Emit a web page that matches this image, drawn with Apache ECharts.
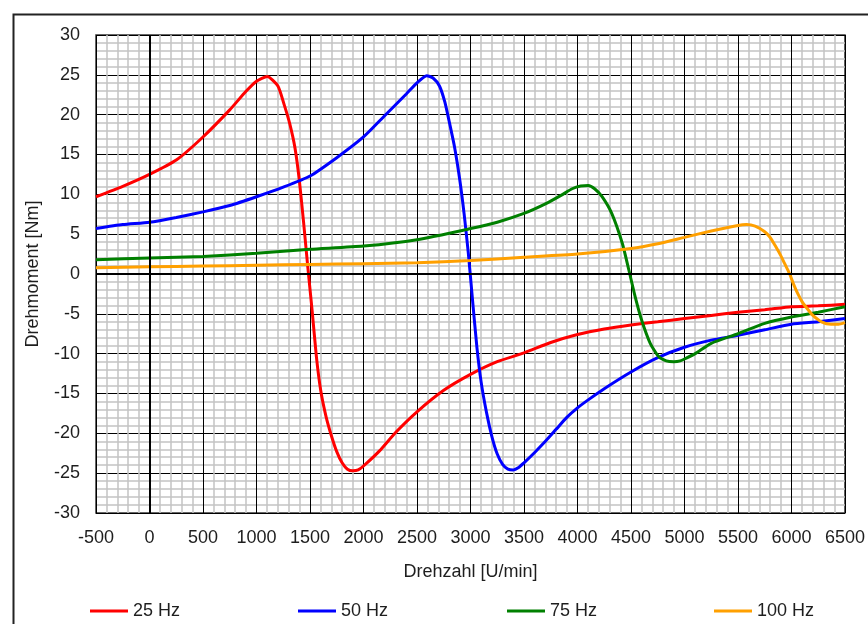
<!DOCTYPE html>
<html>
<head>
<meta charset="utf-8">
<script src="https://cdn.jsdelivr.net/npm/echarts@6/dist/echarts.min.js"></script>
<style>
  html, body { margin: 0; padding: 0; background: #fff; }
  #chart { width: 868px; height: 624px; }
</style>
</head>
<body>
<div id="chart"></div>
<script>
// Drehmoment-Drehzahl-Kennlinien bei verschiedenen Speisefrequenzen
const xTicks = { min: -500, max: 6500, step: 500 };
const yTicks = { min: -30, max: 30, step: 5 };

const rpm25 = [-500, -250, 0, 250, 500, 750, 900, 1000, 1100, 1200, 1260, 1310, 1360, 1400, 1440, 1480, 1520, 1560, 1600, 1650, 1700, 1750, 1800, 1850, 1900, 1950, 2000, 2150, 2300, 2500, 2750, 3000, 3250, 3500, 3750, 4000, 4250, 4500, 4750, 5000, 5250, 5500, 5750, 6000, 6250, 6500];
const torque25 = [9.7, 11.0, 12.5, 14.3, 17.2, 20.6, 22.9, 24.2, 24.8, 23.6, 21.2, 18.9, 15.8, 11.8, 6.5, 0.8, -4.6, -10.4, -14.6, -17.9, -20.3, -22.3, -23.7, -24.5, -24.7, -24.6, -24.1, -22.2, -19.9, -17.3, -14.6, -12.6, -11.0, -9.9, -8.6, -7.6, -6.9, -6.4, -6.0, -5.6, -5.2, -4.8, -4.5, -4.1, -4.0, -3.8];

const rpm50 = [-500, -250, 0, 250, 500, 750, 1000, 1250, 1500, 1750, 2000, 2200, 2400, 2500, 2590, 2650, 2710, 2760, 2800, 2850, 2900, 2940, 2980, 3020, 3060, 3100, 3150, 3200, 3250, 3300, 3350, 3400, 3450, 3500, 3600, 3700, 3800, 3900, 4000, 4100, 4250, 4500, 4750, 5000, 5250, 5500, 5750, 6000, 6250, 6500];
const torque50 = [5.7, 6.2, 6.5, 7.1, 7.8, 8.6, 9.7, 10.9, 12.3, 14.6, 17.2, 19.9, 22.6, 24.0, 24.9, 24.6, 23.6, 21.6, 19.2, 16.0, 11.8, 7.6, 2.6, -3.4, -9.2, -13.6, -17.4, -20.4, -22.6, -23.9, -24.5, -24.6, -24.3, -23.7, -22.4, -21.0, -19.5, -18.0, -16.8, -15.8, -14.4, -12.3, -10.5, -9.2, -8.3, -7.7, -7.0, -6.3, -6.0, -5.6];

const rpm75 = [-500, 0, 500, 1000, 1500, 2000, 2500, 3000, 3250, 3500, 3700, 3850, 3950, 4030, 4100, 4160, 4230, 4320, 4420, 4480, 4540, 4600, 4680, 4760, 4830, 4900, 4960, 5010, 5100, 5250, 5500, 5750, 6000, 6250, 6500];
const torque75 = [1.8, 2.0, 2.2, 2.6, 3.1, 3.5, 4.3, 5.7, 6.5, 7.6, 8.8, 9.9, 10.7, 11.05, 11.1, 10.7, 9.7, 7.6, 3.8, 0.5, -2.9, -5.8, -8.7, -10.4, -10.9, -11.0, -10.9, -10.6, -10.0, -8.7, -7.5, -6.2, -5.4, -4.8, -4.1];

const rpm100 = [-500, 0, 500, 1000, 1500, 2000, 2500, 3000, 3500, 4000, 4500, 4750, 5000, 5250, 5500, 5580, 5660, 5750, 5800, 5850, 5900, 5940, 5980, 6020, 6060, 6100, 6150, 6200, 6280, 6370, 6440, 6500];
const torque100 = [0.8, 0.9, 1.0, 1.1, 1.2, 1.3, 1.4, 1.7, 2.1, 2.5, 3.2, 3.8, 4.6, 5.4, 6.1, 6.2, 6.0, 5.3, 4.6, 3.5, 2.3, 1.2, 0.1, -1.3, -2.5, -3.5, -4.4, -5.2, -6.0, -6.3, -6.3, -6.1];

const seriesNames = ['25 Hz', '50 Hz', '75 Hz', '100 Hz'];
const seriesColors = ['#ff0000', '#0000ff', '#008000', '#ffa000'];
const seriesX = [rpm25, rpm50, rpm75, rpm100];
const seriesY = [torque25, torque50, torque75, torque100];
const legendLeft = [90, 298, 507, 714];

const FONT = "'Liberation Sans', Arial, sans-serif";
const TEXT = '#1e1e1e';

const pairs = (xs, ys) => xs.map((x, i) => [x, ys[i]]);
const plainNumber = (v) => String(v);

const curveSeries = seriesNames.map((name, i) => ({
  name: name,
  type: 'line',
  data: pairs(seriesX[i], seriesY[i]),
  showSymbol: false,
  smooth: 0.2,
  z: 3,
  lineStyle: { color: seriesColors[i], width: 3 },
  itemStyle: { color: seriesColors[i] }
}));

// Achsenkreuz durch den Nullpunkt
const zeroLines = {
  name: 'zero',
  type: 'line',
  data: [],
  z: 2,
  silent: true,
  markLine: {
    silent: true,
    symbol: ['none', 'none'],
    label: { show: false },
    lineStyle: { color: '#000', width: 2, type: 'solid' },
    data: [{ xAxis: 0 }, { yAxis: 0 }]
  }
};

const legends = seriesNames.map((name, i) => ({
  data: [name],
  left: legendLeft[i],
  top: 602,
  padding: 0,
  icon: 'rect',
  itemWidth: 38,
  itemHeight: 3,
  itemGap: 0,
  textStyle: { fontFamily: FONT, fontSize: 18, color: TEXT }
}));

const chart = echarts.init(document.getElementById('chart'), null, { renderer: 'canvas' });
chart.setOption({
  animation: false,
  backgroundColor: '#fff',
  textStyle: { fontFamily: FONT },
  graphic: [{
    type: 'rect',
    left: 11, top: 12,
    shape: { width: 900, height: 700 },
    style: { fill: 'none', stroke: '#222', lineWidth: 2 },
    z: 0
  }],
  grid: {
    left: 96, top: 35, width: 751, height: 478,
    show: true, borderColor: '#333', borderWidth: 1.5, backgroundColor: 'transparent'
  },
  legend: legends,
  xAxis: {
    type: 'value',
    min: xTicks.min, max: xTicks.max, interval: xTicks.step,
    name: 'Drehzahl [U/min]',
    nameLocation: 'middle',
    nameGap: 50,
    nameTextStyle: { fontFamily: FONT, fontSize: 18, color: TEXT },
    axisLine: { show: false },
    axisTick: { show: false },
    axisLabel: { fontFamily: FONT, fontSize: 18, color: TEXT, margin: 16, formatter: plainNumber },
    splitLine: { show: true, lineStyle: { color: '#000', width: 1 } },
    minorTick: { show: false, splitNumber: 5 },
    minorSplitLine: { show: true, lineStyle: { color: '#c4c4c4', width: 1.5 } }
  },
  yAxis: {
    type: 'value',
    min: yTicks.min, max: yTicks.max, interval: yTicks.step,
    name: 'Drehmoment [Nm]',
    nameLocation: 'middle',
    nameGap: 54,
    nameTextStyle: { fontFamily: FONT, fontSize: 18, color: TEXT },
    axisLine: { show: false },
    axisTick: { show: false },
    axisLabel: { fontFamily: FONT, fontSize: 18, color: TEXT, margin: 16, formatter: plainNumber },
    splitLine: { show: true, lineStyle: { color: '#000', width: 1 } },
    minorTick: { show: false, splitNumber: 5 },
    minorSplitLine: { show: true, lineStyle: { color: '#c4c4c4', width: 1.5 } }
  },
  series: [zeroLines].concat(curveSeries)
});
</script>
</body>
</html>
